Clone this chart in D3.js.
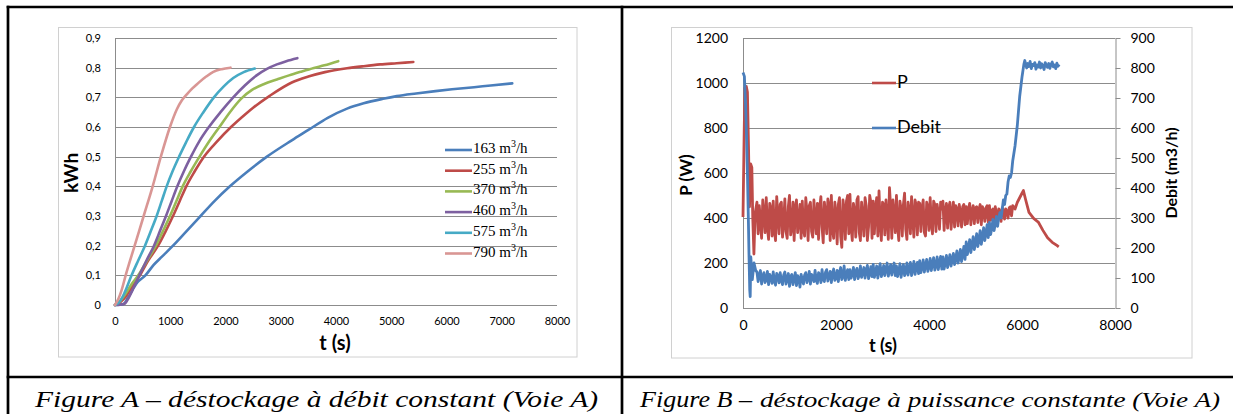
<!DOCTYPE html>
<html>
<head>
<meta charset="utf-8">
<script src="https://cdn.jsdelivr.net/npm/d3@7"></script>
<style>
  body { margin: 0; background: #fff; }
  svg { display: block; }
</style>
</head>
<body>
<script>
// ---- Figure A : energy (kWh) vs time (s), one curve per flow rate
const flowRates = ["163", "255", "370", "460", "575", "790"];
const flowColors = ["#4a7ebb", "#be4b48", "#98b954", "#7d60a0", "#46aac5", "#d99694"];

const curve163 = [[0,0],[150,0.003],[250,0.03],[400,0.075],[550,0.1],[700,0.135],[850,0.163],[1050,0.2],[1300,0.25],[1550,0.3],[1800,0.35],[2080,0.4],[2400,0.45],[2750,0.5],[3200,0.555],[3500,0.59],[3850,0.631],[4200,0.662],[4500,0.68],[4850,0.695],[5100,0.704],[5450,0.713],[5800,0.721],[6100,0.727],[6500,0.734],[6800,0.74],[7190,0.747]];
const curve255 = [[0,0],[100,0.01],[200,0.03],[300,0.06],[450,0.1],[600,0.15],[780,0.2],[920,0.25],[1050,0.3],[1170,0.35],[1290,0.4],[1440,0.45],[1610,0.5],[1840,0.55],[2100,0.6],[2370,0.645],[2500,0.665],[2800,0.705],[3200,0.75],[3500,0.77],[3800,0.785],[4200,0.798],[4500,0.805],[4800,0.811],[5100,0.815],[5400,0.819]];
const curve370 = [[0,0],[100,0.015],[200,0.04],[300,0.07],[420,0.1],[580,0.15],[740,0.2],[870,0.25],[995,0.3],[1110,0.35],[1225,0.4],[1370,0.45],[1530,0.5],[1700,0.55],[1890,0.6],[2080,0.65],[2280,0.695],[2480,0.725],[2700,0.745],[2930,0.76],[3150,0.774],[3360,0.786],[3600,0.799],[3790,0.808],[4040,0.822]];
const curve460 = [[0,0],[100,0.001],[180,0.005],[250,0.025],[340,0.06],[440,0.1],[570,0.15],[706,0.2],[815,0.25],[923,0.3],[1025,0.35],[1128,0.4],[1245,0.45],[1375,0.5],[1520,0.55],[1700,0.6],[1910,0.65],[2140,0.7],[2350,0.74],[2570,0.775],[2750,0.796],[2930,0.811],[3100,0.822],[3300,0.832]];
const curve575 = [[0,0],[80,0.01],[170,0.04],[300,0.1],[420,0.15],[543,0.2],[650,0.25],[754,0.3],[845,0.35],[935,0.4],[1040,0.45],[1160,0.5],[1290,0.55],[1430,0.6],[1600,0.65],[1790,0.7],[1960,0.735],[2140,0.765],[2330,0.785],[2530,0.797]];
const curve790 = [[0,0],[60,0.02],[120,0.05],[193,0.1],[356,0.2],[519,0.3],[682,0.4],[830,0.5],[995,0.6],[1120,0.66],[1211,0.69],[1300,0.71],[1400,0.73],[1500,0.747],[1650,0.77],[1780,0.786],[1930,0.795],[2090,0.8]];
const curvesA = [curve163, curve255, curve370, curve460, curve575, curve790];

const kwhTicks = [0, 0.1, 0.2, 0.3, 0.4, 0.5, 0.6, 0.7, 0.8, 0.9];
const timeTicksA = [0, 1000, 2000, 3000, 4000, 5000, 6000, 7000, 8000];

// ---- Figure B : power (W, left axis) and flow (m3/h, right axis) vs time (s)
// logger samples every 25 s during the steady part
const sampleStep = 25;
const bandStart = 300;

const powerStart = [[0,404],[20,700],[40,978],[70,985],[95,960],[120,700],[140,450],[165,640],[190,625],[210,400],[235,240],[260,420]];
const powerBand = [
  470,330,455,385,310,480,420,335,490,360,305,465,440,320,475,345,300,495,410,330,
  460,470,315,380,485,340,310,450,500,325,360,470,300,445,480,335,390,460,310,475,
  350,320,490,430,300,455,470,340,315,480,400,330,465,305,445,495,360,290,470,420,
  330,485,455,300,500,350,310,470,420,285,460,490,320,270,480,440,305,475,500,330,
  505,360,300,465,430,315,480,495,335,300,470,410,320,490,455,300,360,500,470,310,
  475,330,440,490,320,520,380,300,470,460,325,480,400,305,535,450,310,480,420,335,
  500,365,300,475,440,320,460,510,350,305,470,430,330,495,400,315,480,455,325,470,
  465,340,440,480,335,320,470,450,345,490,380,330,475,460,340,460,420,350,470,440,
  475,345,430,465,355,445,470,350,420,470,360,455,440,365,460,425,360,450,460,370,
  450,375,440,465,370,430,455,375,445,450,380,440,460,370,450,435,385,445,455,380,
  455,390,430,440,380,450,420,385,440,430,385,445,435,395,440,430,400,445,450,410,
  455];
const powerEnd = [[5850,440],[5900,470],[5950,490],[6000,510],[6030,522],[6080,480],[6150,425],[6250,398],[6350,382],[6450,345],[6550,312],[6650,292],[6750,278],[6790,272]];

const debitStart = [[0,785],[30,772],[55,680],[78,560],[95,450],[115,300],[130,170],[145,60],[155,38],[168,170],[200,95],[237,150],[273,125]];
const debitBand = [
  120,88,110,125,80,105,118,85,95,122,78,112,100,82,120,90,76,115,108,84,
  118,92,78,110,120,80,98,115,72,105,112,78,95,118,75,108,100,70,112,95,
  80,110,118,85,98,122,80,112,105,88,125,92,82,118,110,85,128,95,88,120,
  128,90,105,122,85,115,130,92,100,125,88,118,135,95,105,140,92,112,128,95,
  128,100,112,135,95,122,132,98,110,140,102,118,135,100,125,142,98,115,138,105,
  145,102,120,140,100,128,148,105,118,142,108,130,150,106,125,145,110,132,150,108,
  140,105,122,148,102,128,145,108,120,150,110,132,152,108,128,155,112,135,152,115,
  158,118,135,160,120,142,162,122,138,165,125,148,168,126,142,170,128,152,172,130,
  170,130,150,175,135,155,178,140,160,182,145,165,190,150,170,195,155,178,205,162,
  220,178,200,228,185,210,238,195,218,248,205,228,258,212,238,268,225,248,278,235,
  285,245,265,295,258,280,305,272,300,318,300,330,360,345,375,380,420,440,435,450,
  490];
const debitRise = [[5850,540],[5900,610],[5950,705],[6000,770],[6040,812],[6060,825]];
const plateauStart = 6100;
const debitPlateau = [800,815,805,822,798,812,808,818,796,810,803,820,800,814,806,795,818,808,802,815,799,812,820,804,810,798,816,806,812];

const powerTicks = [0, 200, 400, 600, 800, 1000, 1200];
const debitTicks = [0, 100, 200, 300, 400, 500, 600, 700, 800, 900];
const timeTicksB = [0, 2000, 4000, 6000, 8000];

const powerW = powerStart
  .concat(powerBand.map((v, i) => [bandStart + i * sampleStep, v]))
  .concat(powerEnd);
const debitM3h = debitStart
  .concat(debitBand.map((v, i) => [bandStart + i * sampleStep, v]))
  .concat(debitRise)
  .concat(debitPlateau.map((v, i) => [plateauStart + i * sampleStep, v]));

const svg = d3.select("body").append("svg")
  .attr("width", 1233)
  .attr("height", 414);

svg.append("rect").attr("width", 1233).attr("height", 414).attr("fill", "#fff");

const gridColor = "#8c8c8c";
const sans = "Lato, 'Open Sans', sans-serif";
const intFmt = d3.format("d");

// ================= Figure A =================
const gA = svg.append("g");
gA.append("rect")
  .attr("x", 58.5).attr("y", 27.5).attr("width", 518.5).attr("height", 329.5)
  .attr("fill", "#fff").attr("stroke", "#d0d0d0");

const xA = d3.scaleLinear().domain([0, 8000]).range([115, 557]);
const yA = d3.scaleLinear().domain([0, 0.9]).range([305, 38]);

gA.selectAll("line.grid")
  .data(kwhTicks)
  .join("line")
  .attr("class", "grid")
  .attr("x1", xA(0)).attr("x2", xA(8000))
  .attr("y1", d => Math.round(yA(d)) + 0.5).attr("y2", d => Math.round(yA(d)) + 0.5)
  .attr("stroke", gridColor);

gA.append("line")
  .attr("x1", xA(0) + 0.5).attr("x2", xA(0) + 0.5)
  .attr("y1", yA(0.9)).attr("y2", yA(0))
  .attr("stroke", gridColor);

const axisYA = gA.append("g")
  .attr("transform", `translate(${xA(0) - 6},0)`)
  .call(d3.axisLeft(yA).tickValues(kwhTicks).tickSize(0).tickPadding(8)
    .tickFormat(d => d === 0 ? "0" : d.toFixed(1).replace(".", ",")));
axisYA.select(".domain").remove();
axisYA.selectAll("text").attr("font-family", sans).attr("font-size", 11).attr("fill", "#000");

const axisXA = gA.append("g")
  .attr("transform", `translate(0,${yA(0) + 6})`)
  .call(d3.axisBottom(xA).tickValues(timeTicksA).tickSize(0).tickPadding(6).tickFormat(intFmt));
axisXA.select(".domain").remove();
axisXA.selectAll("text").attr("font-family", sans).attr("font-size", 11).attr("fill", "#000");

gA.append("text")
  .attr("x", 335).attr("y", 345).attr("text-anchor", "middle").attr("dominant-baseline", "middle")
  .attr("font-family", sans).attr("font-weight", "bold").attr("font-size", 20)
  .text("t (s)");

gA.append("text")
  .attr("transform", "translate(73,173) rotate(-90)")
  .attr("text-anchor", "middle").attr("dominant-baseline", "middle")
  .attr("font-family", sans).attr("font-weight", "bold").attr("font-size", 19)
  .text("kWh");

const lineA = d3.line()
  .x(d => xA(d[0]))
  .y(d => yA(d[1]))
  .curve(d3.curveMonotoneX);

gA.selectAll("path.flow")
  .data(curvesA)
  .join("path")
  .attr("class", "flow")
  .attr("d", lineA)
  .attr("fill", "none")
  .attr("stroke", (d, i) => flowColors[i])
  .attr("stroke-width", 2.6)
  .attr("stroke-linejoin", "round")
  .attr("stroke-linecap", "round");

// legend
const legA = gA.selectAll("g.leg")
  .data(flowRates)
  .join("g")
  .attr("class", "leg")
  .attr("transform", (d, i) => `translate(445,${150 + i * 20.7})`);
legA.append("line")
  .attr("x1", 0).attr("x2", 27)
  .attr("stroke", (d, i) => flowColors[i]).attr("stroke-width", 2.6);
const legText = legA.append("text")
  .attr("x", 28).attr("y", 0).attr("dominant-baseline", "middle")
  .attr("font-family", "'Liberation Serif', serif").attr("font-size", 15);
legText.append("tspan").text(d => d + " m");
legText.append("tspan").attr("font-size", 10).attr("dy", -5).text("3");
legText.append("tspan").attr("dy", 5).text("/h");

// ================= Figure B =================
const gB = svg.append("g");
gB.append("rect")
  .attr("x", 671.5).attr("y", 27.5).attr("width", 520.5).attr("height", 330.5)
  .attr("fill", "#fff").attr("stroke", "#d0d0d0");

const xB = d3.scaleLinear().domain([0, 8000]).range([743, 1115]);
const yP = d3.scaleLinear().domain([0, 1200]).range([308, 38]);
const yD = d3.scaleLinear().domain([0, 900]).range([308, 38]);

gB.selectAll("line.grid")
  .data(powerTicks)
  .join("line")
  .attr("class", "grid")
  .attr("x1", xB(0)).attr("x2", xB(8000))
  .attr("y1", d => Math.round(yP(d)) + 0.5).attr("y2", d => Math.round(yP(d)) + 0.5)
  .attr("stroke", gridColor);

gB.append("line")
  .attr("x1", xB(0) + 0.5).attr("x2", xB(0) + 0.5)
  .attr("y1", yP(1200)).attr("y2", yP(0))
  .attr("stroke", gridColor);

const axisP = gB.append("g")
  .attr("transform", `translate(${xB(0) - 6},0)`)
  .call(d3.axisLeft(yP).tickValues(powerTicks).tickSize(0).tickPadding(9).tickFormat(intFmt));
axisP.select(".domain").remove();
axisP.selectAll("text").attr("font-family", sans).attr("font-size", 14).attr("fill", "#000");

const axisD = gB.append("g")
  .attr("transform", `translate(${xB(8000) + 0.5},0)`)
  .call(d3.axisRight(yD).tickValues(debitTicks).tickSizeOuter(0).tickSizeInner(5).tickPadding(10).tickFormat(intFmt));
axisD.select(".domain").attr("stroke", gridColor);
axisD.selectAll(".tick line").attr("stroke", gridColor);
axisD.selectAll("text").attr("font-family", sans).attr("font-size", 14).attr("fill", "#000");

const axisXB = gB.append("g")
  .attr("transform", `translate(0,${yP(0) + 4})`)
  .call(d3.axisBottom(xB).tickValues(timeTicksB).tickSize(0).tickPadding(8).tickFormat(intFmt));
axisXB.select(".domain").remove();
axisXB.selectAll("text").attr("font-family", sans).attr("font-size", 14).attr("fill", "#000");

gB.append("text")
  .attr("x", 883).attr("y", 347).attr("text-anchor", "middle").attr("dominant-baseline", "middle")
  .attr("font-family", sans).attr("font-weight", "bold").attr("font-size", 18)
  .text("t (s)");

gB.append("text")
  .attr("transform", "translate(688,175) rotate(-90)")
  .attr("text-anchor", "middle").attr("dominant-baseline", "middle")
  .attr("font-family", sans).attr("font-weight", "bold").attr("font-size", 17)
  .text("P (W)");

gB.append("text")
  .attr("transform", "translate(1173,173) rotate(-90)")
  .attr("text-anchor", "middle").attr("dominant-baseline", "middle")
  .attr("font-family", sans).attr("font-weight", "bold").attr("font-size", 16)
  .text("Debit (m3/h)");

gB.append("path")
  .datum(powerW)
  .attr("d", d3.line().x(d => xB(d[0])).y(d => yP(d[1])))
  .attr("fill", "none").attr("stroke", "#be4b48").attr("stroke-width", 2.8)
  .attr("stroke-linejoin", "round");

gB.append("path")
  .datum(debitM3h)
  .attr("d", d3.line().x(d => xB(d[0])).y(d => yD(d[1])))
  .attr("fill", "none").attr("stroke", "#4a7ebb").attr("stroke-width", 2.8)
  .attr("stroke-linejoin", "round");

const legB = gB.selectAll("g.leg")
  .data([["P", "#be4b48"], ["Debit", "#4a7ebb"]])
  .join("g")
  .attr("class", "leg")
  .attr("transform", (d, i) => `translate(872,${83 + i * 45})`);
legB.append("line").attr("x1", 0).attr("x2", 24)
  .attr("stroke", d => d[1]).attr("stroke-width", 2.6);
legB.append("text").attr("x", 25).attr("dominant-baseline", "middle")
  .attr("font-family", sans).attr("font-size", 18).text(d => d[0]);

// ================= table frame and captions =================
const frame = svg.append("g").attr("stroke", "#000").attr("stroke-width", 2.7);
frame.append("line").attr("x1", 6.7).attr("x2", 1233).attr("y1", 7).attr("y2", 7);
frame.append("line").attr("x1", 8).attr("x2", 8).attr("y1", 5.7).attr("y2", 414);
frame.append("line").attr("x1", 622).attr("x2", 622).attr("y1", 5.7).attr("y2", 414);
frame.append("line").attr("x1", 6.7).attr("x2", 1233).attr("y1", 377).attr("y2", 377);

const serifItalic = "'Liberation Serif', 'DejaVu Serif', serif";
svg.append("text")
  .attr("x", 35).attr("y", 407)
  .attr("font-family", serifItalic).attr("font-style", "italic").attr("font-size", 24)
  .attr("textLength", 563).attr("lengthAdjust", "spacingAndGlyphs")
  .text("Figure A – déstockage à débit constant (Voie A)");

const capB = svg.append("text")
  .attr("y", 407)
  .attr("font-family", serifItalic).attr("font-style", "italic");
capB.append("tspan").attr("x", 640).attr("font-size", 24)
  .attr("textLength", 112).attr("lengthAdjust", "spacingAndGlyphs")
  .text("Figure B –");
capB.append("tspan").attr("x", 760).attr("font-size", 20)
  .attr("textLength", 460).attr("lengthAdjust", "spacingAndGlyphs")
  .text("déstockage à puissance constante (Voie A)");
</script>
</body>
</html>
